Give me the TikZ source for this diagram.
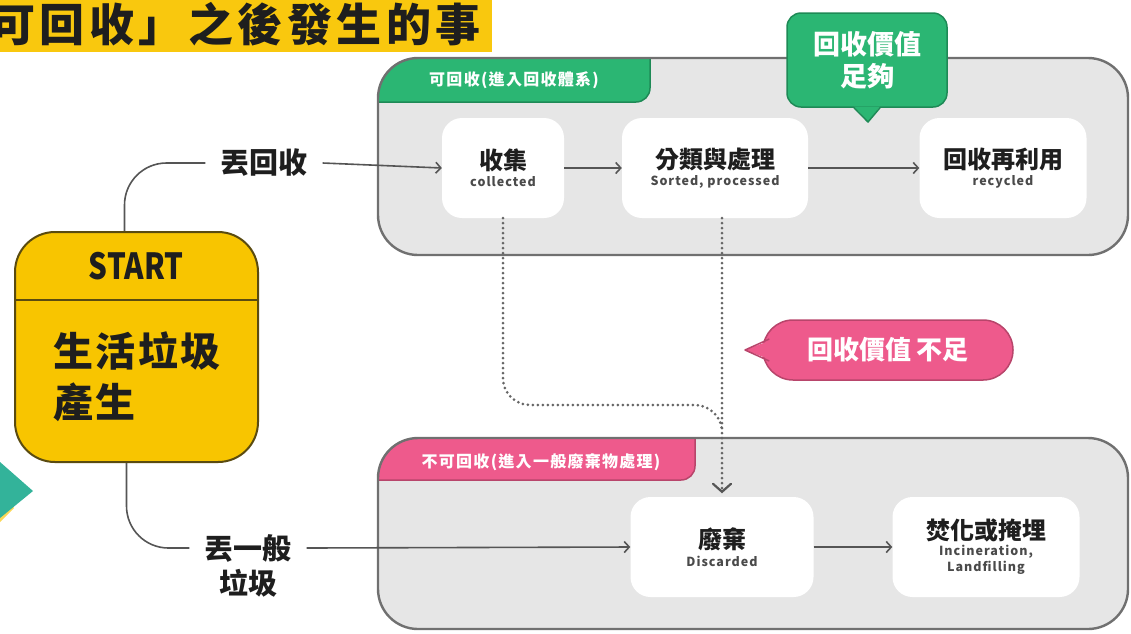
\documentclass[tikz,border=0pt]{standalone}
\usepackage{fontspec}
\setmainfont{Noto Sans CJK TC}
\usetikzlibrary{arrows.meta,calc}
\definecolor{ylw}{HTML}{F9C80E}
\definecolor{startfill}{HTML}{F8C500}
\definecolor{startline}{HTML}{5A4B10}
\definecolor{grn}{HTML}{2BB673}
\definecolor{dkgrn}{HTML}{1E8A56}
\definecolor{pnk}{HTML}{EE5A8C}
\definecolor{dkpnk}{HTML}{B8456B}
\definecolor{tealc}{HTML}{33B39A}
\definecolor{panelc}{HTML}{E6E6E6}
\definecolor{panelb}{HTML}{707070}
\definecolor{linec}{HTML}{555555}
\definecolor{txtc}{HTML}{1E1E1E}
\definecolor{subc}{HTML}{4A4A4A}
\newcommand\ntitle[1]{{\bfseries\fontsize{24}{26}\selectfont #1}}
\newcommand\nsub[1]{{\bfseries\fontsize{12.5}{15}\selectfont\addfontfeature{LetterSpace=8}\color{subc}#1}}
\begin{document}
\begin{tikzpicture}[x=1pt,y=-1pt,
  conn/.style={draw=linec, line width=1.6pt},
  arr/.style={-{Straight Barb[length=5pt,width=11pt,line width=1.6pt]}},
  dotl/.style={draw=linec!90, line width=3pt, dash pattern=on 0pt off 5pt, line cap=round},
  wbox/.style={fill=white, rounded corners=20pt, minimum height=100pt, align=center, inner sep=0pt, text=txtc},
  panel/.style={fill=panelc, rounded corners=40pt},
  panelline/.style={draw=panelb, line width=2.4pt, rounded corners=40pt},
  lbl/.style={text=txtc, font=\bfseries\fontsize{29}{30}\selectfont, inner sep=0pt},
  tabtxt/.style={text=white, font=\bfseries\fontsize{16}{18}\selectfont, inner sep=0pt}
]
\useasboundingbox (0,0) rectangle (1131,633);
\clip (0,0) rectangle (1131,633);

% title band
\fill[ylw] (0,0) rectangle (492,52);
\node[anchor=west, inner sep=0pt, text=txtc, font=\bfseries\fontsize{45}{48}\selectfont\addfontfeature{LetterSpace=10}] (title) at (-10,24) {可回收」之後發生的事};

% teal triangle at left edge
\fill[ylw!70] (0,492) -- (14,508) -- (0,522) -- cycle;
\fill[tealc] (0,462) -- (33,491) -- (0,518) -- cycle;

% upper panel
\path[panel] (378,58) rectangle (1128,255);
\begin{scope}
  \clip[rounded corners=40pt] (378,58) rectangle (1128,255);
  \fill[grn, draw=dkgrn, line width=1.5pt, rounded corners=14pt] (340,30) rectangle (650,102);
\end{scope}
\draw[panelline] (378,58) rectangle (1128,255);
\node[tabtxt] (tabup) at (514,80) {\addfontfeature{LetterSpace=8}可回收(進入回收體系)};

% lower panel
\path[panel] (378,438) rectangle (1128,629);
\begin{scope}
  \clip[rounded corners=40pt] (378,438) rectangle (1128,629);
  \fill[pnk, draw=dkpnk, line width=1.5pt, rounded corners=14pt] (340,410) rectangle (695,480);
\end{scope}
\draw[panelline] (378,438) rectangle (1128,629);
\node[tabtxt] (tabdn) at (541,462) {\addfontfeature{LetterSpace=8}不可回收(進入一般廢棄物處理)};

% process boxes
\node[wbox, minimum width=122pt] (shou) at (503,168) {\ntitle{收集}\\[4pt]\nsub{collected}};
\node[wbox, minimum width=186pt] (fen) at (715,168) {\ntitle{分類與處理}\\[4pt]\nsub{Sorted, processed}};
\node[wbox, minimum width=167pt] (zai) at (1003,168) {\ntitle{回收再利用}\\[4pt]\nsub{recycled}};
\node[wbox, minimum width=183pt] (qi) at (722,547) {\ntitle{廢棄}\\[4pt]\nsub{Discarded}};
\node[wbox, minimum width=187pt] (burn) at (986,547) {\ntitle{焚化或掩埋}\\[2pt]\nsub{Incineration,}\\[2pt]\nsub{Landfilling}};

% START box
\node[fill=startfill, draw=startline, line width=2pt, rounded corners=40pt, minimum width=243pt, minimum height=230pt, inner sep=0pt] (start) at (136.5,347) {};
\draw[startline, line width=2pt] (start.west |- 0,300) -- (start.east |- 0,300);
\node[text=txtc, inner sep=0pt, font=\bfseries\fontsize{36}{38}\selectfont] (startlbl) at (136,266) {\scalebox{0.82}[1]{START}};
\node[anchor=west, text=txtc, inner sep=0pt, font=\bfseries\fontsize{40}{42}\selectfont\addfontfeature{LetterSpace=6}] (life) at (53,351) {生活垃圾};
\node[anchor=west, text=txtc, inner sep=0pt, font=\bfseries\fontsize{40}{42}\selectfont\addfontfeature{LetterSpace=6}] (prod) at (53,402) {產生};

% branch labels
\node[lbl, inner xsep=15pt] (lblup) at (264,163) {丟回收};
\node[lbl, inner xsep=15pt] (lbldn) at (248,548) {丟一般};
\node[lbl] (lbldn2) at (248,583) {垃圾};

% connectors
\draw[conn, rounded corners=42pt] ([xshift=-12pt]start.north) |- (lblup.west);
\draw[conn, rounded corners=42pt] ([xshift=-10pt]start.south) |- (lbldn.west);
\draw[conn, arr] (lblup.east) -- (shou.west);
\draw[conn, arr] (shou.east) -- (fen.west);
\draw[conn, arr] (fen.east) -- (zai.west);
\draw[conn, arr] (lbldn.east) -- (qi.west);
\draw[conn, arr] (qi.east) -- (burn.west);

% dotted paths
\draw[dotl, rounded corners=27pt] (shou.south) |- (722,405) -- (722,432);
\draw[dotl] (fen.south -| qi.north) -- ([yshift=8pt]qi.north);
\draw[draw=linec, line width=2.2pt, line cap=round, line join=miter] ([xshift=-9pt,yshift=13pt]qi.north) -- ([yshift=5pt]qi.north) -- ([xshift=9pt,yshift=13pt]qi.north);

% green callout
\node[fill=grn, draw=dkgrn, line width=1.5pt, rounded corners=14pt, minimum width=160pt, minimum height=94pt, align=center, inner sep=0pt, text=white, font=\bfseries\fontsize{27}{32}\selectfont] (enough) at (867,60) {回收價值\\足夠};
\coordinate (etip) at (868,122);
\fill[grn] ([xshift=-13pt,yshift=1.2pt]enough.south) -- (etip) -- ([xshift=13pt,yshift=1.2pt]enough.south) -- cycle;
\draw[dkgrn, line width=1.5pt, line join=round] ([xshift=-13pt]enough.south) -- (etip) -- ([xshift=13pt]enough.south);

% pink callout
\node[fill=pnk, draw=dkpnk, line width=1.5pt, rounded corners=30pt, minimum width=250pt, minimum height=60pt, inner sep=0pt, text=white, font=\bfseries\fontsize{26}{28}\selectfont] (notenough) at (888,350) {回收價值 不足};
\coordinate (ptip) at (745,350);
\fill[pnk] ([xshift=9pt,yshift=10pt]notenough.west) -- (ptip) -- ([xshift=9pt,yshift=-10pt]notenough.west) -- ([xshift=14pt]notenough.west) -- cycle;
\draw[dkpnk, line width=1.5pt, line join=round] ([xshift=7pt,yshift=11pt]notenough.west) -- (ptip) -- ([xshift=7pt,yshift=-11pt]notenough.west);
\end{tikzpicture}
\end{document}
